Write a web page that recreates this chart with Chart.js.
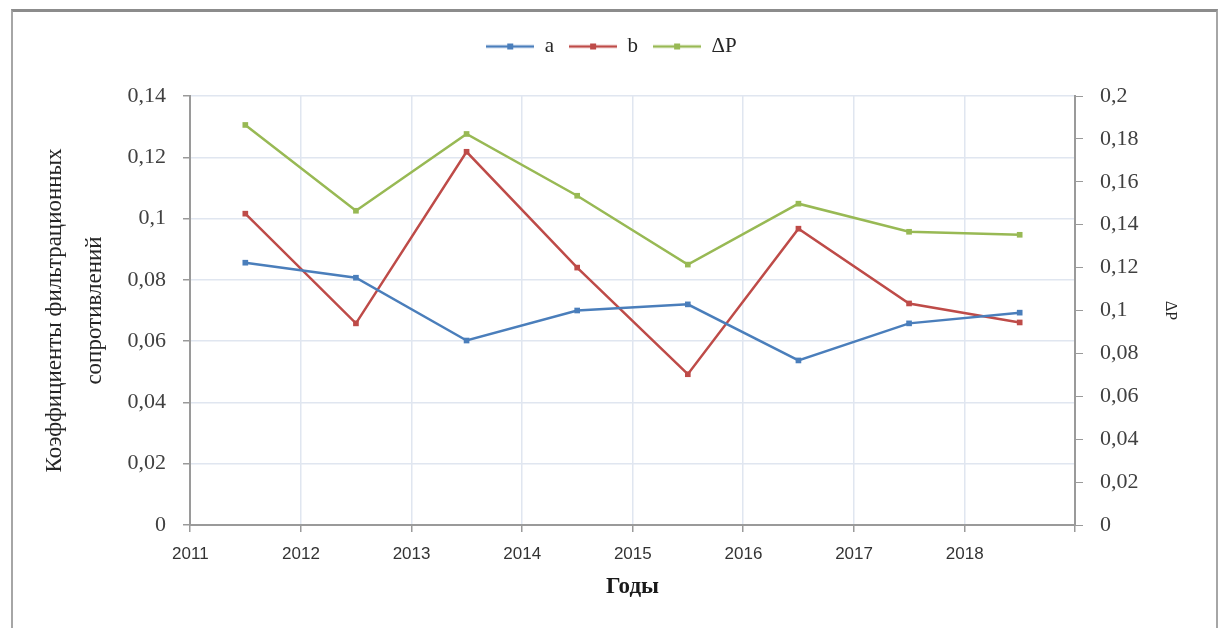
<!DOCTYPE html>
<html lang="ru">
<head>
  <meta charset="UTF-8">
  <title>Коэффициенты фильтрационных сопротивлений</title>
  <script src="https://cdn.jsdelivr.net/npm/chart.js"></script>
  <style>
    html, body { margin: 0; padding: 0; background: #fff; }
    #wrap { position: relative; width: 1223px; height: 628px; overflow: hidden; }
    #frame { position: absolute; left: 11px; top: 9px; width: 1203px; height: 640px;
             border: 2px solid #a6a6a6; border-top: 3px solid #8c8c8c; pointer-events: none; }
    canvas { position: absolute; left: 0; top: 0; }
  </style>
</head>
<body>
  <div id="wrap">
    <canvas id="chart" width="1223" height="628"></canvas>
    <div id="frame"></div>
  </div>

  <script>
    // values
    const years = ['2011', '2012', '2013', '2014', '2015', '2016', '2017', '2018'];
    const coefA = [0.0856, 0.0807, 0.0602, 0.0700, 0.0720, 0.0537, 0.0658, 0.0693];
    const coefB = [0.1016, 0.0658, 0.1218, 0.0840, 0.0492, 0.0967, 0.0723, 0.0661];
    const deltaP = [0.1865, 0.1465, 0.1823, 0.1535, 0.1214, 0.1498, 0.1367, 0.1353];

    const blue = '#4a7ebb';
    const red = '#be4b48';
    const green = '#98b954';

    // legend icon: short line with a square marker
    function legendIcon(color) {
      const c = document.createElement('canvas');
      c.width = 48; c.height = 10;
      const g = c.getContext('2d');
      g.strokeStyle = color;
      g.lineWidth = 2.5;
      g.beginPath(); g.moveTo(0, 5); g.lineTo(48, 5); g.stroke();
      g.fillStyle = color;
      g.fillRect(21, 2, 6, 6);
      return c;
    }
    const icons = [legendIcon(blue), legendIcon(red), legendIcon(green)];

    const comma = v => String(+(+v).toFixed(2)).replace('.', ',');

    const tickFont = { family: 'Liberation Serif', size: 22 };

    new Chart(document.getElementById('chart'), {
      type: 'line',
      data: {
        labels: years,
        datasets: [
          { label: 'a', data: coefA, borderColor: blue, backgroundColor: blue, yAxisID: 'y' },
          { label: 'b', data: coefB, borderColor: red, backgroundColor: red, yAxisID: 'y' },
          { label: 'ΔP', data: deltaP, borderColor: green, backgroundColor: green, yAxisID: 'y1' }
        ]
      },
      options: {
        responsive: false,
        animation: false,
        layout: { padding: { top: 21, left: 0, right: 0, bottom: 0 } },
        elements: {
          line: { borderWidth: 2.5, tension: 0 },
          point: { pointStyle: 'rect', radius: 4, borderWidth: 0 }
        },
        plugins: {
          tooltip: { enabled: false },
          legend: {
            position: 'top',
            labels: {
              usePointStyle: true,
              pointStyleWidth: 48,
              padding: 15,
              color: '#262626',
              font: { family: 'Liberation Serif', size: 21 },
              generateLabels: chart =>
                Chart.defaults.plugins.legend.labels.generateLabels(chart)
                  .map((l, i) => ({ ...l, pointStyle: icons[i] }))
            }
          },
          // empty spacer between legend and plot
          subtitle: {
            display: true,
            text: '',
            weight: 500,
            padding: 0,
            font: { size: 29, lineHeight: 1 }
          }
        },
        scales: {
          x: {
            type: 'category',
            offset: true,
            afterFit: s => { s.height = 103; },
            grid: { offset: true, color: '#e0e6f0', lineWidth: 1.5, tickLength: 7, tickColor: '#9a9a9a' },
            border: { color: '#9a9a9a', width: 2 },
            ticks: {
              labelOffset: -55,
              padding: 12,
              color: '#333',
              font: { family: 'Liberation Sans', size: 17 }
            },
            title: {
              display: true,
              text: 'Годы',
              color: '#1a1a1a',
              font: { family: 'Liberation Serif', size: 23, weight: 'bold', lineHeight: 1.2 },
              padding: { top: 0, bottom: 27 }
            }
          },
          y: {
            position: 'left',
            min: 0,
            max: 0.14,
            afterFit: s => { s.width = 190; },
            grid: { color: '#e0e6f0', lineWidth: 1.5, tickLength: 7, tickColor: '#9a9a9a' },
            border: { color: '#9a9a9a', width: 2 },
            ticks: { stepSize: 0.02, padding: 17, color: '#404040', font: tickFont, callback: comma },
            title: {
              display: true,
              text: ['Коэффициенты фильтрационных', 'сопротивлений'],
              color: '#262626',
              font: { family: 'Liberation Serif', size: 23, lineHeight: 1.75 },
              padding: { top: 35, bottom: 0 }
            }
          },
          y1: {
            position: 'right',
            min: 0,
            max: 0.2,
            afterFit: s => { s.width = 148; },
            grid: { drawOnChartArea: false, tickLength: 8, tickColor: '#9a9a9a' },
            border: { color: '#9a9a9a', width: 2 },
            ticks: { stepSize: 0.02, padding: 17, color: '#404040', font: tickFont, callback: comma },
            title: {
              display: true,
              text: 'ΔP',
              color: '#262626',
              font: { family: 'Liberation Serif', size: 16, lineHeight: 1.2 },
              padding: { top: 43, bottom: 0 }
            }
          }
        }
      }
    });
  </script>
</body>
</html>
